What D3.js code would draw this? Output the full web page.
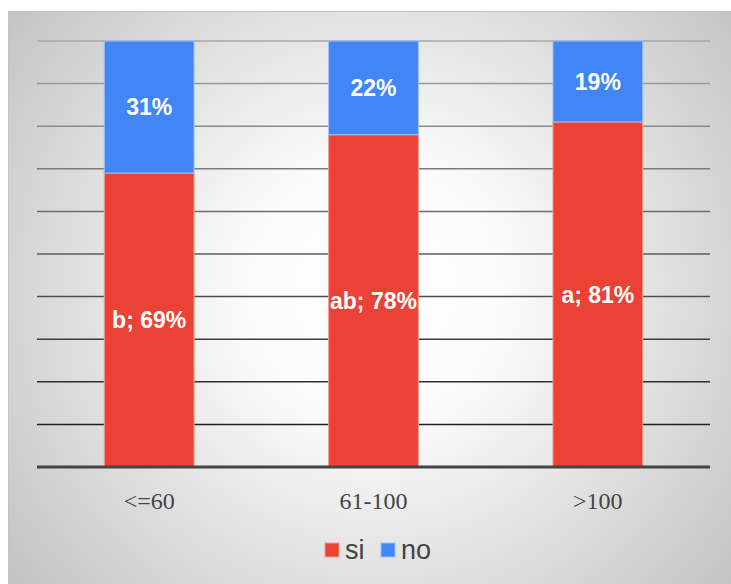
<!DOCTYPE html>
<html>
<head>
<meta charset="utf-8">
<script src="https://cdn.jsdelivr.net/npm/d3@7"></script>
<style>
  body { margin: 0; background: #fff; }
</style>
</head>
<body>
<div id="chartDiv"></div>
<script>
// data
let categories = ["<=60", "61-100", ">100"];
let siValues = [69, 78, 81];
let noValues = [31, 22, 19];
let siLetters = ["b", "ab", "a"];
let seriesNames = ["si", "no"];
let gridTicks = [0, 10, 20, 30, 40, 50, 60, 70, 80, 90, 100];

let width = 731, height = 584;
let colorSi = "#ea4335", colorNo = "#4285f4";

let svg = d3.select("#chartDiv").append("svg")
	.attr("width", width)
	.attr("height", height);

let defs = svg.append("defs");
let grad = defs.append("radialGradient")
	.attr("id", "bgGrad")
	.attr("gradientUnits", "userSpaceOnUse")
	.attr("cx", 375).attr("cy", 290).attr("r", 470);
grad.append("stop").attr("offset", "0%").attr("stop-color", "#ffffff");
grad.append("stop").attr("offset", "28%").attr("stop-color", "#fbfbfb");
grad.append("stop").attr("offset", "100%").attr("stop-color", "#c2c2c2");

// panel
svg.append("rect")
	.attr("x", 8.5).attr("y", 11.5)
	.attr("width", width).attr("height", height)
	.attr("fill", "url(#bgGrad)")
	.attr("stroke", "#c4c4c4")
	.attr("stroke-width", 1);

let plotLeft = 37, plotRight = 710, plotTop = 41, plotBottom = 467;

let xScale = d3.scaleBand()
	.domain(categories)
	.range([plotLeft, plotRight])
	.paddingInner(0.6)
	.paddingOuter(0.3);

let yScale = d3.scaleLinear()
	.domain([0, 100])
	.range([plotBottom, plotTop]);

let lineColor = d3.scaleLinear()
	.domain([100, 0])
	.range(["#a8a8a8", "#111111"]);

// gridlines
let grid = svg.append("g").attr("class", "grid");
grid.selectAll("line")
	.data(gridTicks.filter(function(d){ return d > 0; }))
	.enter().append("line")
	.attr("x1", plotLeft).attr("x2", plotRight)
	.attr("y1", function(d){ return yScale(d); })
	.attr("y2", function(d){ return yScale(d); })
	.attr("stroke", function(d){ return lineColor(d); })
	.attr("stroke-width", 1.5);

let barGroup = svg.append("g");

// si bars (bottom)
barGroup.selectAll(".si")
	.data(categories)
	.enter().append("rect")
	.attr("class", "si")
	.attr("x", function(d){ return xScale(d); })
	.attr("width", xScale.bandwidth())
	.attr("y", function(d, i){ return yScale(siValues[i]); })
	.attr("height", function(d, i){ return yScale(0) - yScale(siValues[i]); })
	.attr("fill", colorSi)
	.attr("stroke", "#f39a93")
	.attr("stroke-width", 1);

// no bars (top)
barGroup.selectAll(".no")
	.data(categories)
	.enter().append("rect")
	.attr("class", "no")
	.attr("x", function(d){ return xScale(d); })
	.attr("width", xScale.bandwidth())
	.attr("y", function(d, i){ return yScale(siValues[i] + noValues[i]); })
	.attr("height", function(d, i){ return yScale(siValues[i]) - yScale(siValues[i] + noValues[i]); })
	.attr("fill", colorNo)
	.attr("stroke", "#9ec0fa")
	.attr("stroke-width", 1);

// labels
let labelGroup = svg.append("g")
	.attr("font-family", "Liberation Sans, Arial, sans-serif")
	.attr("font-weight", "bold")
	.attr("font-size", 23)
	.attr("fill", "#ffffff")
	.attr("text-anchor", "middle");

labelGroup.selectAll(".siLabel")
	.data(categories)
	.enter().append("text")
	.attr("x", function(d){ return xScale(d) + xScale.bandwidth() / 2; })
	.attr("y", function(d, i){ return yScale(siValues[i] / 2); })
	.attr("dy", "0.36em")
	.text(function(d, i){ return siLetters[i] + "; " + siValues[i] + "%"; });

labelGroup.selectAll(".noLabel")
	.data(categories)
	.enter().append("text")
	.attr("x", function(d){ return xScale(d) + xScale.bandwidth() / 2; })
	.attr("y", function(d, i){ return yScale(siValues[i] + noValues[i] / 2); })
	.attr("dy", "0.36em")
	.text(function(d, i){ return noValues[i] + "%"; });

// baseline axis
let xAxis = d3.axisBottom(xScale).tickSize(0).tickPadding(25);
let axisG = svg.append("g")
	.attr("transform", "translate(0," + plotBottom + ")")
	.call(xAxis);
axisG.select(".domain").remove();
axisG.append("line")
	.attr("x1", plotLeft).attr("x2", plotRight)
	.attr("y1", 0).attr("y2", 0)
	.attr("stroke", "#444444")
	.attr("stroke-width", 3);
axisG.selectAll("text")
	.attr("font-family", "Liberation Serif, Times New Roman, serif")
	.attr("font-size", 24)
	.attr("fill", "#444444");

// legend
let legend = svg.append("g")
	.attr("font-family", "Liberation Sans, Arial, sans-serif")
	.attr("font-size", 27)
	.attr("fill", "#444444");
let legendX = [325, 381];
let legendColors = [colorSi, colorNo];
let legendStroke = ["#f39a93", "#9ec0fa"];
seriesNames.forEach(function(name, i){
	legend.append("rect")
		.attr("x", legendX[i]).attr("y", 543)
		.attr("width", 14).attr("height", 14)
		.attr("fill", legendColors[i])
		.attr("stroke", legendStroke[i])
		.attr("stroke-width", 1);
	legend.append("text")
		.attr("x", legendX[i] + 20).attr("y", 559)
		.text(name);
});
</script>
</body>
</html>
